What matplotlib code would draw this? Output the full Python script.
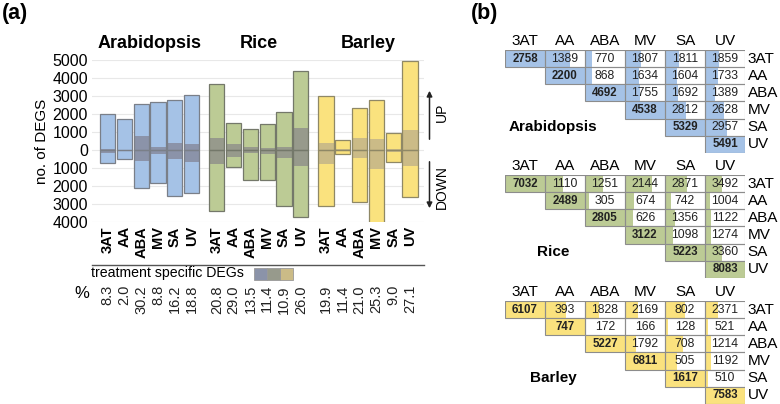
import numpy as np
import matplotlib
matplotlib.use("Agg")
import matplotlib.pyplot as plt
from matplotlib.patches import Rectangle
from matplotlib.transforms import blended_transform_factory

plt.rcParams['font.family'] = ['Liberation Sans', 'DejaVu Sans']

# ---- data, panel (a) ----
treatments = ["3AT", "AA", "ABA", "MV", "SA", "UV"]
species = ["Arabidopsis", "Rice", "Barley"]

arab_up = [2000, 1720, 2560, 2670, 2800, 3060]
arab_down = [740, 480, 2130, 1850, 2550, 2410]
arab_spec_up = [80, 15, 780, 190, 370, 330]
arab_spec_down = [150, 30, 610, 200, 480, 660]

rice_up = [3650, 1520, 1150, 1430, 2100, 4390]
rice_down = [3390, 960, 1640, 1680, 3110, 3700]
rice_spec_up = [650, 320, 190, 130, 140, 1220]
rice_spec_down = [800, 380, 190, 230, 420, 880]

barley_up = [2980, 540, 2350, 2780, 930, 4930]
barley_down = [3110, 220, 2870, 4040, 685, 2630]
barley_spec_up = [400, 40, 650, 610, 60, 1110]
barley_spec_down = [800, 45, 430, 1070, 85, 900]

arab_pct = ["8.3", "2.0", "30.2", "8.8", "16.2", "18.8"]
rice_pct = ["20.8", "29.0", "13.5", "11.4", "10.9", "26.0"]
barley_pct = ["19.9", "11.4", "21.0", "25.3", "9.0", "27.1"]

# ---- data, panel (b): upper triangle, row i holds columns i..5 ----
arab_overlap = [[2758, 1389, 770, 1807, 1811, 1859],
                [2200, 868, 1634, 1604, 1733],
                [4692, 1755, 1692, 1389],
                [4538, 2812, 2628],
                [5329, 2957],
                [5491]]
rice_overlap = [[7032, 1110, 1251, 2144, 2871, 3492],
                [2489, 305, 674, 742, 1004],
                [2805, 626, 1356, 1122],
                [3122, 1098, 1274],
                [5223, 3360],
                [8083]]
barley_overlap = [[6107, 393, 1828, 2169, 802, 2371],
                  [747, 172, 166, 128, 521],
                  [5227, 1792, 708, 1214],
                  [6811, 505, 1192],
                  [1617, 510],
                  [7583]]

light = ["#a5c2e6", "#bccb95", "#fae27e"]
dark = ["#8b93a9", "#979a8c", "#cbbb87"]
edge = ["#7a7f88", "#74786a", "#8f8866"]

W, H = 780, 404
fig = plt.figure(figsize=(W / 100, H / 100), dpi=100)


def fx(px):
    return px / W


def fy(py):
    return 1 - py / H


# ================= panel (a) =================
ax = fig.add_axes([fx(92), fy(222), (424 - 92) / W, (222 - 60) / H])
ax.set_xlim(-0.93, 18.83)
ax.set_ylim(-4000, 5000)

groups = [
    (arab_up, arab_down, arab_spec_up, arab_spec_down, arab_pct),
    (rice_up, rice_down, rice_spec_up, rice_spec_down, rice_pct),
    (barley_up, barley_down, barley_spec_up, barley_spec_down, barley_pct),
]
all_pos = []
all_labels = []
pct_tr = blended_transform_factory(ax.transData, fig.transFigure)
for g, (up, down, su, sd, pct) in enumerate(groups):
    pos = np.arange(6) + g * 6.5
    up = np.array(up)
    down = np.array(down)
    ax.bar(pos, up, width=0.9, color=light[g], zorder=2)
    ax.bar(pos, -down, width=0.9, color=light[g], zorder=2)
    ax.bar(pos, su, width=0.9, color=dark[g], zorder=3)
    ax.bar(pos, -np.array(sd), width=0.9, color=dark[g], zorder=3)
    ax.bar(pos, up, width=0.9, fill=False, edgecolor=edge[g], lw=0.9, zorder=4)
    ax.bar(pos, -down, width=0.9, fill=False, edgecolor=edge[g], lw=0.9, zorder=4)
    ax.text(pos.mean(), fy(43), species[g], transform=pct_tr, ha="center",
            va="center", fontsize=13, fontweight="bold")
    for p, s in zip(pos, pct):
        ax.text(p, fy(285), s, transform=pct_tr, rotation=90, ha="center",
                va="top", fontsize=10.5, color="#222")
    all_pos += list(pos)
    all_labels += treatments

yt = np.arange(-4000, 5001, 1000)
ax.set_yticks(yt)
ax.set_yticklabels([str(abs(v)) for v in yt], fontsize=11.5)
ax.set_xticks(all_pos)
ax.set_xticklabels(all_labels, rotation=90, fontweight="bold", fontsize=10.5)
ax.tick_params(length=0, pad=3)
ax.yaxis.grid(True, color="#e8e8e8", lw=0.8, zorder=0)
ax.set_axisbelow(True)
for s in ax.spines.values():
    s.set_visible(False)
ax.set_ylabel("no. of DEGS", fontsize=11, labelpad=2)

# separator line, legend, percentages
fig.add_artist(plt.Line2D([fx(92), fx(424)], [fy(265), fy(265)], color="#555555", lw=1))
fig.text(fx(91), fy(273), "treatment specific DEGs", ha="left", va="center", fontsize=10.2)
for k in range(3):
    fig.add_artist(Rectangle((fx(254 + 13.2 * k), fy(280)), 12.5 / W, 12.5 / H,
                             transform=fig.transFigure, facecolor=dark[k],
                             edgecolor="#999999", lw=0.6))
fig.text(fx(82), fy(293), "%", ha="center", va="center", fontsize=12)

# UP / DOWN arrows
ax.annotate("", xy=(fx(429.5), fy(88)), xytext=(fx(429.5), fy(142)),
            xycoords="figure fraction",
            arrowprops=dict(arrowstyle="-|>", color="#222222", lw=1.1, mutation_scale=8))
ax.annotate("", xy=(fx(429.5), fy(211)), xytext=(fx(429.5), fy(159)),
            xycoords="figure fraction",
            arrowprops=dict(arrowstyle="-|>", color="#222222", lw=1.1, mutation_scale=8))
fig.text(fx(442), fy(112), "UP", rotation=90, ha="center", va="center", fontsize=10)
fig.text(fx(442), fy(187), "DOWN", rotation=90, ha="center", va="center", fontsize=10)

fig.text(fx(2), fy(13), "(a)", ha="left", va="center", fontsize=15.5, fontweight="bold")
fig.text(fx(471), fy(13), "(b)", ha="left", va="center", fontsize=15.5, fontweight="bold")

# ================= panel (b) =================
tables = [(arab_overlap, 50), (rice_overlap, 175), (barley_overlap, 301)]
row_h = 17.15
for g, (ov, top) in enumerate(tables):
    axt = fig.add_axes([fx(505), fy(top + 6 * row_h), 240 / W, 6 * row_h / H])
    axt.set_xlim(0, 6)
    axt.set_ylim(6, 0)
    axt.axis("off")
    diag = [row[0] for row in ov]
    for i, row in enumerate(ov):
        cols = np.arange(i, 6)
        frac = np.array(row) / np.array(diag)[cols]
        axt.barh(np.full(len(cols), i + 0.5), frac, left=cols, height=1,
                 color=light[g], lw=0)
        axt.barh(np.full(len(cols), i + 0.5), 1, left=cols, height=1,
                 fill=False, edgecolor="#8c8c8c", lw=0.8)
        for c, v in zip(cols, row):
            if c == i:
                axt.text(c + 0.5, i + 0.5, str(v), ha="center", va="center",
                         fontsize=8.3, fontweight="bold", color="#222")
            else:
                axt.text(c + 0.5, i + 0.5, str(v), ha="center", va="center",
                         fontsize=8.8, color="#222")
        axt.text(6.07, i + 0.5, treatments[i], ha="left", va="center",
                 fontsize=11, clip_on=False)
    for j, t in enumerate(treatments):
        axt.text(j + 0.5, -0.5, t, ha="center", va="center", fontsize=11, clip_on=False)
    axt.text(1.2, 4.5, species[g], ha="center", va="center", fontsize=11,
             fontweight="bold")

fig.savefig("out.png", dpi=100)
